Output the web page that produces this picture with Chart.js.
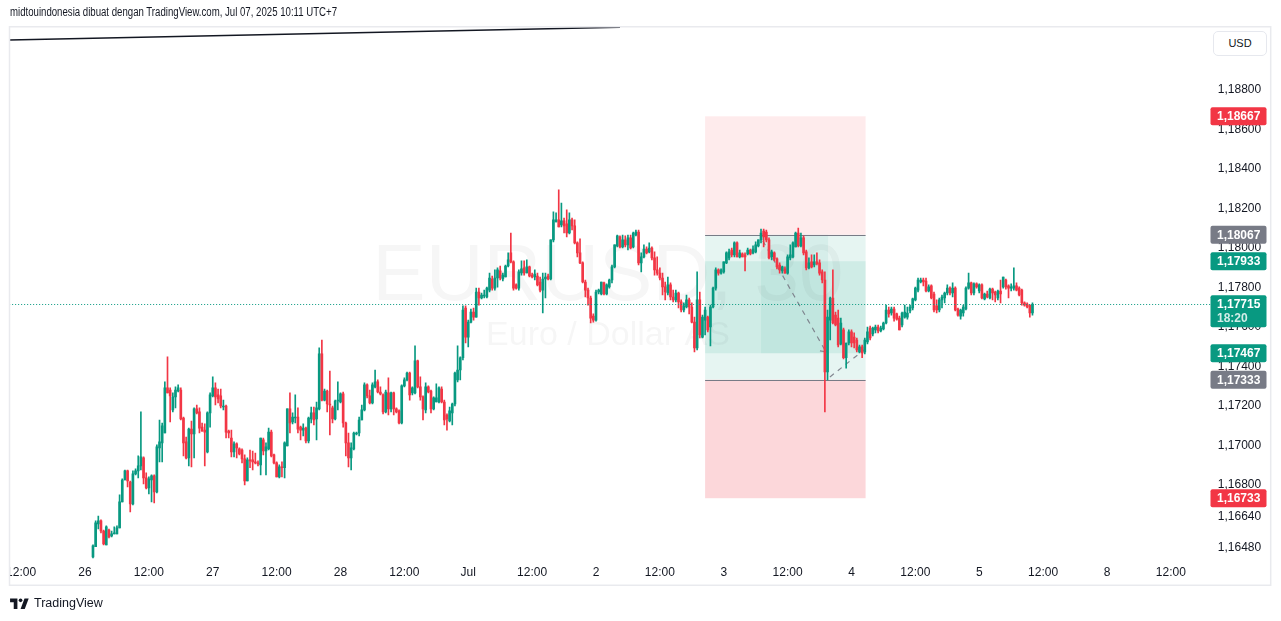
<!DOCTYPE html>
<html>
<head>
<meta charset="utf-8">
<script src="https://cdn.jsdelivr.net/npm/chart.js@4.4.1/dist/chart.umd.min.js"></script>
<style>
html,body{margin:0;padding:0;background:#fff;overflow:hidden;}
#wrap{position:relative;width:1281px;height:621px;}
#c{position:absolute;left:0;top:0;}
#hdr{position:absolute;left:10px;top:5px;font:12px "Liberation Sans",Arial,sans-serif;color:#131722;white-space:nowrap;transform-origin:0 0;}
#usd{position:absolute;left:1213px;top:31px;width:52px;height:23px;border:1px solid #e6e8ee;border-radius:5px;font:11px "Liberation Sans",Arial,sans-serif;color:#131722;text-align:center;line-height:23px;background:#fff;}
#logo{position:absolute;left:10px;top:596px;height:14px;display:flex;align-items:center;font:12.5px "Liberation Sans",Arial,sans-serif;color:#131722;}
#logo svg{margin-right:5px;}
</style>
</head>
<body>
<div id="wrap">
<canvas id="c" width="1281" height="621"></canvas>
<div id="hdr">midtouindonesia dibuat dengan TradingView.com, Jul 07, 2025 10:11 UTC+7</div>
<div id="usd">USD</div>
<div id="logo"><svg width="19" height="11" viewBox="0 0 36 21"><path d="M14 21H7V8H0V1h14z" fill="#131722"/><circle cx="20" cy="4.5" r="3.5" fill="#131722"/><path d="M28 21h-8l7.5-20h8z" fill="#131722"/></svg>TradingView</div>
</div>
<script>
// ---- 30-minute EURUSD candles (first candle sits at slot 3; slot 0 = "26" 00:00) ----
const firstSlot = 3;
const openPrices = [
1.16436,1.16487,1.16603,1.16618,1.16567,1.16497,1.16572,1.16542,1.16552,1.16552,1.16583,1.16714,1.16825,1.16871,1.16815,1.16704,1.16856,1.16871,1.16897,1.16937,
1.16836,1.16785,1.16825,1.16846,1.16765,1.16988,1.17013,1.17063,1.17292,1.17281,1.17180,1.17246,1.17276,1.17281,1.17139,1.17018,1.16937,1.17083,1.17058,1.17185,
1.17170,1.17093,1.17078,1.16967,1.17165,1.17251,1.17292,1.17256,1.17251,1.17195,1.17200,1.17073,1.17038,1.16967,1.17008,1.16983,1.16977,1.16932,1.16820,1.16927,
1.16927,1.16917,1.16912,1.16902,1.17028,1.16972,1.16983,1.17068,1.16952,1.16912,1.16841,1.16892,1.16887,1.16998,1.17185,1.17119,1.17139,1.17144,1.17093,1.17078,
1.17088,1.17023,1.17134,1.17165,1.17134,1.17185,1.17464,1.17230,1.17276,1.17210,1.17190,1.17134,1.17225,1.17220,1.17261,1.17114,1.17013,1.16937,1.16983,1.17058,
1.17063,1.17129,1.17180,1.17307,1.17251,1.17215,1.17297,1.17322,1.17271,1.17256,1.17170,1.17266,1.17185,1.17266,1.17185,1.17175,1.17114,1.17302,1.17332,1.17367,
1.17266,1.17266,1.17428,1.17297,1.17246,1.17180,1.17297,1.17276,1.17185,1.17220,1.17220,1.17286,1.17220,1.17154,1.17124,1.17165,1.17210,1.17332,1.17382,1.17444,
1.17696,1.17549,1.17625,1.17676,1.17650,1.17777,1.17747,1.17757,1.17752,1.17787,1.17843,1.17797,1.17848,1.17884,1.17843,1.17853,1.17909,1.17975,1.17930,1.17813,
1.17797,1.17874,1.17899,1.17874,1.17904,1.17863,1.17853,1.17858,1.17828,1.17787,1.17843,1.17858,1.17843,1.18041,1.18132,1.18142,1.18117,1.18137,1.18122,1.18076,
1.18142,1.18112,1.18026,1.17975,1.17925,1.17828,1.17787,1.17747,1.17655,1.17635,1.17777,1.17767,1.17823,1.17767,1.17803,1.17838,1.17904,1.18011,1.18056,1.18006,
1.18041,1.18016,1.18051,1.18006,1.18066,1.18081,1.17925,1.17955,1.17995,1.17980,1.18000,1.17950,1.17889,1.17873,1.17848,1.17803,1.17772,1.17813,1.17752,1.17737,
1.17772,1.17727,1.17686,1.17701,1.17737,1.17701,1.17625,1.17494,1.17737,1.17549,1.17635,1.17650,1.17600,1.17701,1.17797,1.17889,
1.17873,1.17879,1.17925,1.17950,1.17990,1.17965,1.18026,1.17955,1.17970,1.17965,1.17970,1.17990,1.17975,1.17980,1.18011,1.18041,1.18086,1.18081,1.18041,1.17955,
1.17975,1.17945,1.17914,1.17884,1.17894,1.17873,1.17950,1.17955,1.18006,1.18076,1.18011,1.18051,1.17980,1.17899,1.17930,1.17914,1.17930,1.17925,1.17879,1.17838,
1.17372,1.17635,1.17747,1.17660,1.17645,1.17514,1.17585,1.17444,1.17519,1.17575,1.17549,1.17534,1.17474,1.17499,1.17474,1.17524,1.17595,
1.17565,1.17585,1.17600,1.17580,1.17590,1.17620,1.17686,1.17671,1.17691,1.17666,1.17645,1.17610,1.17650,1.17650,1.17681,1.17696,1.17737,1.17787,1.17828,1.17838,
1.17833,1.17782,1.17808,1.17767,1.17707,1.17686,1.17737,1.17747,1.17772,1.17797,1.17772,1.17797,1.17691,1.17655,1.17671,1.17691,1.17797,1.17823,1.17772,1.17818,
1.17782,1.17813,1.17742,1.17767,1.17747,1.17792,1.17777,1.17747,1.17782,1.17803,1.17838,1.17808,1.17797,1.17797,1.17808,1.17797,1.17787,1.17722,1.17716,1.17711,
1.17671];
const highPrices = [
1.16497,1.16618,1.16643,1.16623,1.16572,1.16593,1.16577,1.16567,1.16588,1.16593,1.16750,1.16831,1.16876,1.16876,1.16820,1.16871,1.16882,1.16947,1.17170,1.16942,
1.16861,1.16841,1.16851,1.16851,1.17003,1.17129,1.17114,1.17322,1.17449,1.17292,1.17266,1.17297,1.17307,1.17292,1.17144,1.17043,1.17088,1.17124,1.17190,1.17205,
1.17190,1.17114,1.17109,1.17170,1.17266,1.17347,1.17317,1.17286,1.17286,1.17230,1.17205,1.17078,1.17078,1.17018,1.17013,1.16988,1.16983,1.16952,1.16937,1.16977,
1.16972,1.16962,1.16922,1.17038,1.17038,1.17013,1.17088,1.17078,1.16957,1.16917,1.16902,1.16917,1.17018,1.17185,1.17266,1.17165,1.17256,1.17190,1.17098,1.17109,
1.17093,1.17144,1.17195,1.17195,1.17220,1.17494,1.17534,1.17286,1.17281,1.17377,1.17200,1.17230,1.17322,1.17266,1.17271,1.17119,1.17063,1.17013,1.17068,1.17068,
1.17144,1.17205,1.17317,1.17312,1.17281,1.17317,1.17382,1.17332,1.17297,1.17261,1.17281,1.17342,1.17271,1.17271,1.17190,1.17180,1.17307,1.17342,1.17372,1.17372,
1.17297,1.17504,1.17433,1.17347,1.17251,1.17317,1.17302,1.17281,1.17246,1.17312,1.17297,1.17297,1.17230,1.17160,1.17195,1.17215,1.17372,1.17504,1.17449,1.17707,
1.17707,1.17635,1.17691,1.17696,1.17797,1.17797,1.17772,1.17787,1.17802,1.17873,1.17858,1.17889,1.17899,1.17909,1.17873,1.17914,1.17975,1.18076,1.17935,1.17818,
1.17889,1.17935,1.17935,1.17940,1.17909,1.17873,1.17889,1.17873,1.17853,1.17873,1.17873,1.17868,1.18041,1.18183,1.18178,1.18294,1.18228,1.18152,1.18193,1.18178,
1.18152,1.18142,1.18031,1.18046,1.17930,1.17838,1.17797,1.17757,1.17666,1.17787,1.17792,1.17828,1.17828,1.17818,1.17843,1.17914,1.18016,1.18066,1.18061,1.18066,
1.18061,1.18066,1.18066,1.18081,1.18091,1.18091,1.17975,1.18016,1.18006,1.18026,1.18006,1.17980,1.17955,1.17899,1.17873,1.17828,1.17853,1.17823,1.17787,1.17787,
1.17777,1.17737,1.17722,1.17762,1.17747,1.17722,1.17650,1.17879,1.17777,1.17660,1.17701,1.17655,1.17711,1.17802,1.17899,1.17894,
1.17894,1.17930,1.17980,1.17995,1.18000,1.18031,1.18031,1.17990,1.17975,1.17975,1.18000,1.17995,1.18011,1.18031,1.18041,1.18096,1.18096,1.18091,1.18051,1.17990,
1.17980,1.17950,1.17925,1.17909,1.17904,1.17965,1.18016,1.18031,1.18081,1.18101,1.18076,1.18061,1.17990,1.17950,1.17965,1.17965,1.17975,1.17940,1.17889,1.17879,
1.17686,1.17752,1.17889,1.17676,1.17686,1.17645,1.17595,1.17519,1.17585,1.17585,1.17570,1.17544,1.17509,1.17509,1.17544,1.17600,1.17605,
1.17600,1.17610,1.17610,1.17605,1.17625,1.17711,1.17701,1.17701,1.17701,1.17671,1.17655,1.17676,1.17711,1.17701,1.17711,1.17747,1.17802,1.17848,1.17848,1.17848,
1.17848,1.17813,1.17813,1.17777,1.17737,1.17747,1.17762,1.17777,1.17813,1.17803,1.17823,1.17803,1.17696,1.17691,1.17711,1.17803,1.17873,1.17828,1.17823,1.17823,
1.17818,1.17818,1.17772,1.17782,1.17797,1.17797,1.17782,1.17787,1.17838,1.17853,1.17843,1.17813,1.17818,1.17899,1.17823,1.17803,1.17792,1.17727,1.17722,1.17711,
1.17722];
const lowPrices = [
1.16431,1.16487,1.16578,1.16557,1.16497,1.16497,1.16532,1.16537,1.16552,1.16552,1.16583,1.16714,1.16825,1.16790,1.16663,1.16699,1.16851,1.16836,1.16876,1.16805,
1.16780,1.16755,1.16714,1.16709,1.16760,1.16917,1.16917,1.17063,1.17266,1.17119,1.17170,1.17190,1.17271,1.17129,1.16947,1.16932,1.16897,1.16892,1.16937,1.17160,
1.17063,1.17073,1.16897,1.16962,1.17093,1.17246,1.17205,1.17215,1.17190,1.17180,1.17038,1.17038,1.16942,1.16942,1.16937,1.16952,1.16912,1.16800,1.16820,1.16887,
1.16876,1.16907,1.16897,1.16851,1.16952,1.16851,1.16977,1.16942,1.16907,1.16841,1.16836,1.16841,1.16836,1.16998,1.17063,1.17109,1.17114,1.17063,1.17028,1.17048,
1.17013,1.17013,1.17114,1.17104,1.17028,1.17180,1.17225,1.17225,1.17170,1.17053,1.17114,1.17129,1.17180,1.17215,1.17093,1.16947,1.16892,1.16876,1.16977,1.17053,
1.17048,1.17129,1.17175,1.17241,1.17210,1.17210,1.17292,1.17266,1.17256,1.17160,1.17165,1.17155,1.17170,1.17155,1.17165,1.17109,1.17109,1.17297,1.17327,1.17230,
1.17256,1.17261,1.17292,1.17230,1.17129,1.17165,1.17266,1.17165,1.17180,1.17220,1.17215,1.17215,1.17104,1.17078,1.17119,1.17104,1.17200,1.17322,1.17332,1.17433,
1.17519,1.17499,1.17620,1.17635,1.17650,1.17711,1.17742,1.17747,1.17747,1.17777,1.17787,1.17787,1.17802,1.17838,1.17833,1.17853,1.17904,1.17925,1.17787,1.17792,
1.17787,1.17863,1.17863,1.17874,1.17853,1.17848,1.17838,1.17808,1.17777,1.17671,1.17747,1.17838,1.17838,1.18031,1.18132,1.18107,1.18107,1.18076,1.18056,1.18071,
1.18091,1.18021,1.17955,1.17920,1.17823,1.17752,1.17711,1.17620,1.17625,1.17630,1.17767,1.17762,1.17762,1.17762,1.17797,1.17823,1.17899,1.18006,1.18000,1.18000,
1.18006,1.17990,1.17995,1.18000,1.18061,1.17914,1.17879,1.17950,1.17970,1.17975,1.17940,1.17863,1.17863,1.17838,1.17762,1.17737,1.17762,1.17737,1.17727,1.17727,
1.17696,1.17676,1.17676,1.17696,1.17666,1.17620,1.17474,1.17484,1.17544,1.17544,1.17560,1.17575,1.17504,1.17696,1.17787,1.17863,
1.17868,1.17873,1.17920,1.17940,1.17955,1.17955,1.17955,1.17950,1.17955,1.17884,1.17965,1.17965,1.17970,1.17975,1.18006,1.18026,1.18006,1.18031,1.17945,1.17940,
1.17935,1.17894,1.17873,1.17873,1.17873,1.17868,1.17940,1.17950,1.18006,1.18006,1.18006,1.17965,1.17889,1.17894,1.17899,1.17904,1.17914,1.17863,1.17823,1.17170,
1.17332,1.17534,1.17615,1.17605,1.17499,1.17509,1.17438,1.17392,1.17509,1.17499,1.17494,1.17474,1.17469,1.17444,1.17464,1.17514,1.17534,
1.17555,1.17570,1.17570,1.17575,1.17585,1.17615,1.17650,1.17660,1.17630,1.17635,1.17585,1.17600,1.17645,1.17640,1.17671,1.17686,1.17732,1.17777,1.17823,1.17808,
1.17777,1.17777,1.17742,1.17676,1.17671,1.17676,1.17696,1.17722,1.17762,1.17762,1.17752,1.17681,1.17655,1.17640,1.17655,1.17686,1.17792,1.17762,1.17762,1.17797,
1.17772,1.17742,1.17737,1.17747,1.17742,1.17737,1.17727,1.17737,1.17722,1.17797,1.17792,1.17747,1.17782,1.17787,1.17782,1.17757,1.17711,1.17706,1.17696,1.17650,
1.17660];
const closePrices = [
1.16492,1.16608,1.16618,1.16567,1.16502,1.16588,1.16537,1.16552,1.16557,1.16583,1.16714,1.16825,1.16871,1.16820,1.16704,1.16856,1.16871,1.16897,1.16942,1.16836,
1.16785,1.16831,1.16846,1.16765,1.16993,1.17018,1.17099,1.17292,1.17266,1.17251,1.17246,1.17281,1.17292,1.17134,1.17013,1.16937,1.17083,1.17058,1.17185,1.17165,
1.17088,1.17073,1.17068,1.17165,1.17256,1.17292,1.17246,1.17236,1.17200,1.17200,1.17068,1.17063,1.16967,1.17008,1.16988,1.16957,1.16932,1.16820,1.16927,1.16922,
1.16917,1.16912,1.16907,1.17038,1.16972,1.16993,1.17068,1.16947,1.16912,1.16841,1.16892,1.16887,1.17013,1.17185,1.17114,1.17144,1.17144,1.17083,1.17078,1.17088,
1.17023,1.17139,1.17165,1.17129,1.17190,1.17464,1.17230,1.17276,1.17210,1.17205,1.17134,1.17225,1.17230,1.17261,1.17114,1.17013,1.16937,1.16988,1.17063,1.17063,
1.17129,1.17180,1.17307,1.17251,1.17215,1.17307,1.17322,1.17271,1.17261,1.17170,1.17271,1.17185,1.17266,1.17185,1.17170,1.17114,1.17302,1.17332,1.17367,1.17256,
1.17292,1.17428,1.17297,1.17246,1.17185,1.17297,1.17271,1.17185,1.17241,1.17241,1.17292,1.17220,1.17129,1.17134,1.17175,1.17210,1.17367,1.17382,1.17444,1.17686,
1.17549,1.17625,1.17676,1.17650,1.17777,1.17747,1.17762,1.17762,1.17797,1.17848,1.17797,1.17848,1.17889,1.17848,1.17863,1.17909,1.17940,1.17930,1.17797,1.17797,
1.17879,1.17894,1.17874,1.17904,1.17858,1.17853,1.17868,1.17813,1.17787,1.17843,1.17853,1.17843,1.18041,1.18142,1.18142,1.18107,1.18137,1.18112,1.18076,1.18142,
1.18112,1.18026,1.17975,1.17925,1.17828,1.17787,1.17747,1.17645,1.17635,1.17777,1.17787,1.17828,1.17767,1.17813,1.17838,1.17904,1.18016,1.18061,1.18006,1.18041,
1.18016,1.18051,1.18000,1.18076,1.18081,1.17925,1.17955,1.17995,1.17975,1.18000,1.17950,1.17889,1.17873,1.17848,1.17803,1.17777,1.17813,1.17752,1.17737,1.17772,
1.17727,1.17686,1.17707,1.17737,1.17701,1.17625,1.17494,1.17737,1.17560,1.17650,1.17686,1.17585,1.17701,1.17797,1.17889,1.17873,
1.17889,1.17930,1.17975,1.17980,1.17965,1.18026,1.17955,1.17975,1.17955,1.17955,1.17990,1.17970,1.17995,1.18016,1.18041,1.18076,1.18056,1.18041,1.17950,1.17980,
1.17945,1.17904,1.17889,1.17904,1.17873,1.17955,1.17965,1.18026,1.18076,1.18011,1.18051,1.17975,1.17899,1.17925,1.17904,1.17930,1.17920,1.17873,1.17838,1.17372,
1.17650,1.17747,1.17620,1.17610,1.17509,1.17620,1.17444,1.17519,1.17575,1.17519,1.17519,1.17484,1.17499,1.17469,1.17534,1.17575,1.17544,
1.17595,1.17600,1.17580,1.17595,1.17620,1.17686,1.17666,1.17691,1.17645,1.17640,1.17585,1.17671,1.17676,1.17671,1.17701,1.17742,1.17797,1.17838,1.17838,1.17828,
1.17782,1.17803,1.17747,1.17686,1.17686,1.17737,1.17752,1.17772,1.17797,1.17772,1.17797,1.17686,1.17660,1.17686,1.17701,1.17797,1.17823,1.17772,1.17818,1.17803,
1.17813,1.17747,1.17767,1.17752,1.17792,1.17772,1.17762,1.17782,1.17767,1.17853,1.17803,1.17797,1.17803,1.17808,1.17787,1.17762,1.17722,1.17711,1.17701,1.17671,
1.17715];

// ---- axes ----
const xTickSlots  = [-24,0,24,48,72,96,120,144,168,192,216,240,264,288,312,336,360,384,408];
const xTickLabels = ['12:00','26','12:00','27','12:00','28','12:00','Jul','12:00','2','12:00','3','12:00','4','12:00','5','12:00','8','12:00'];
const yTickValues = [1.188,1.186,1.184,1.182,1.180,1.178,1.176,1.174,1.172,1.170,1.168,1.1664,1.1648];
const xRange = [-28.5, 421.5];
const yRange = [1.16415, 1.19114];

// ---- price-axis badges ----
const badgeValues = [1.18667, 1.18067, 1.17933, 1.17715, 1.17467, 1.17333, 1.16733];
const badgeColors = ['#f23645','#787b86','#089981','#089981','#089981','#787b86','#f23645'];
const badgeSub    = ['','','','18:20','','',''];
const lastPrice = 1.17715;

// ---- position tool drawing ----
const posSlots = [233, 293.3];
const posInnerSlots = [254, 279.2];
const stopHigh = 1.18667, entryHigh = 1.18067, bandHigh = 1.17933, bandLow = 1.17467, entryLow = 1.17333, stopLow = 1.16733;
const pathSlots  = [254.7, 278.4, 279.9, 292.7];
const pathPrices = [1.18036, 1.17474, 1.17347, 1.17484];
const watermark = ['EURUSD, 30', 'Euro / Dollar AS'];

const UP = '#089981', DOWN = '#f23645';
const colors = openPrices.map((o,i) => closePrices[i] >= o ? UP : DOWN);
const wickData = openPrices.map((o,i) => ({x: firstSlot + i, y: [lowPrices[i], highPrices[i]]}));
const bodyData = openPrices.map((o,i) => ({x: firstSlot + i, y: [o, closePrices[i]]}));
const fmt = v => v.toFixed(5).replace('.', ',');
const FONT = '"Liberation Sans", Arial, sans-serif';

const tvPlugin = {
  id: 'tv',
  beforeDatasetsDraw(chart) {
    const {ctx, chartArea: a, scales: {x, y}} = chart;
    const X = s => x.getPixelForValue(s), Y = p => y.getPixelForValue(p);
    ctx.save();
    ctx.beginPath(); ctx.rect(a.left, a.top, a.right - a.left, a.bottom - a.top); ctx.clip();
    const x0 = X(posSlots[0]), x1 = X(posSlots[1]);
    const box = (xa, xb, pa, pb, c) => { ctx.fillStyle = c; ctx.fillRect(xa, Y(pa), xb - xa, Y(pb) - Y(pa)); };
    box(x0, x1, stopHigh, entryHigh, 'rgba(242,54,69,0.1)');
    box(x0, x1, entryHigh, entryLow, 'rgba(8,153,129,0.1)');
    box(x0, x1, entryLow, stopLow, 'rgba(242,54,69,0.2)');
    box(x0, x1, bandHigh, bandLow, 'rgba(8,153,129,0.1)');
    box(X(posInnerSlots[0]), X(posInnerSlots[1]), entryHigh, bandLow, 'rgba(8,153,129,0.07)');
    ctx.strokeStyle = '#787b86'; ctx.lineWidth = 1;
    [entryHigh, entryLow].forEach(p => { const yy = Math.round(Y(p)) + 0.5; ctx.beginPath(); ctx.moveTo(x0, yy); ctx.lineTo(x1, yy); ctx.stroke(); });
    // watermark
    const cx = (a.left + a.right) / 2;
    ctx.fillStyle = 'rgba(19,23,34,0.04)';
    ctx.textAlign = 'center'; ctx.textBaseline = 'alphabetic';
    ctx.font = '80px ' + FONT; ctx.fillText(watermark[0], cx, a.top + 272);
    ctx.font = '34px ' + FONT; ctx.fillText(watermark[1], cx, a.top + 317);
    // dashed path
    ctx.strokeStyle = 'rgba(120,123,134,0.9)'; ctx.lineWidth = 1.2; ctx.setLineDash([5, 5]);
    for (let k = 0; k < pathSlots.length; k += 2) {
      ctx.beginPath(); ctx.moveTo(X(pathSlots[k]), Y(pathPrices[k])); ctx.lineTo(X(pathSlots[k+1]), Y(pathPrices[k+1])); ctx.stroke();
    }
    ctx.setLineDash([]);
    const ex = X(pathSlots[1]), ey = Y(pathPrices[1]);
    ctx.beginPath(); ctx.moveTo(ex - 6, ey - 1); ctx.lineTo(ex, ey); ctx.lineTo(ex - 1, ey - 6); ctx.stroke();
    ctx.restore();
  },
  afterDatasetsDraw(chart) {
    const {ctx, chartArea: a, scales: {y}} = chart;
    const yy = Math.round(y.getPixelForValue(lastPrice)) + 0.5;
    ctx.save();
    ctx.strokeStyle = UP; ctx.lineWidth = 1; ctx.setLineDash([1, 2]);
    ctx.beginPath(); ctx.moveTo(a.left, yy); ctx.lineTo(1211, yy); ctx.stroke();
    ctx.restore();
  },
  afterDraw(chart) {
    const {ctx, scales: {y}} = chart;
    ctx.save();
    ctx.fillStyle = '#fff'; ctx.fillRect(0, 562, 9.5, 24);
    badgeValues.forEach((v, i) => {
      const yy = y.getPixelForValue(v);
      const h = badgeSub[i] ? 32 : 18;
      ctx.fillStyle = badgeColors[i];
      ctx.beginPath(); ctx.roundRect(1210.5, yy - 9, 56, h, 2); ctx.fill();
      ctx.fillStyle = '#fff'; ctx.font = 'bold 12px ' + FONT; ctx.textAlign = 'left'; ctx.textBaseline = 'middle';
      ctx.fillText(fmt(v), 1217, yy + 0.5);
      if (badgeSub[i]) { ctx.fillStyle = 'rgba(255,255,255,0.82)'; ctx.fillText(badgeSub[i], 1217, yy + 14.5); }
    });
    ctx.strokeStyle = '#131722'; ctx.lineWidth = 1.4;
    ctx.beginPath(); ctx.moveTo(9.5, 40); ctx.lineTo(620, 27.3); ctx.stroke();
    ctx.strokeStyle = '#e9eaee'; ctx.lineWidth = 1.5;
    ctx.strokeRect(9.5, 26.75, 1261.2, 558.5);
    ctx.restore();
  }
};

new Chart(document.getElementById('c'), {
  type: 'bar',
  data: { datasets: [
    { label: 'body', data: bodyData, backgroundColor: colors, barThickness: 2, grouped: false, minBarLength: 1, order: 0 },
    { label: 'wick', data: wickData, backgroundColor: colors, barThickness: 1, grouped: false, order: 1 }
  ]},
  options: {
    responsive: false, animation: false, devicePixelRatio: 1, events: [],
    layout: { padding: { left: 9.15, right: 10.2, top: 28, bottom: 36 } },
    plugins: { legend: { display: false }, tooltip: { enabled: false } },
    scales: {
      x: {
        type: 'linear', min: xRange[0], max: xRange[1], offset: false,
        grid: { display: false, drawTicks: false, tickLength: 0 }, border: { display: false },
        afterBuildTicks: s => { s.ticks = xTickSlots.map(v => ({ value: v })); },
        afterFit: s => { s.height = 24; },
        ticks: { autoSkip: false, maxRotation: 0, padding: 4, color: '#131722', font: { family: FONT, size: 12 },
                 callback: v => { const i = xTickSlots.indexOf(v); return i >= 0 ? xTickLabels[i] : ''; } }
      },
      y: {
        type: 'linear', position: 'right', min: yRange[0], max: yRange[1], beginAtZero: false,
        grid: { display: false, drawTicks: false, tickLength: 0 }, border: { display: false },
        afterBuildTicks: s => { s.ticks = yTickValues.map(v => ({ value: v })); },
        afterFit: s => { s.width = 64; },
        ticks: { padding: 11, crossAlign: 'near', color: '#131722', font: { family: FONT, size: 12 }, callback: v => fmt(v) }
      }
    }
  },
  plugins: [tvPlugin]
});

const hdr = document.getElementById('hdr');
const hw = hdr.getBoundingClientRect().width;
if (hw > 0) hdr.style.transform = 'scaleX(' + (327 / hw) + ')';
</script>
</body>
</html>
